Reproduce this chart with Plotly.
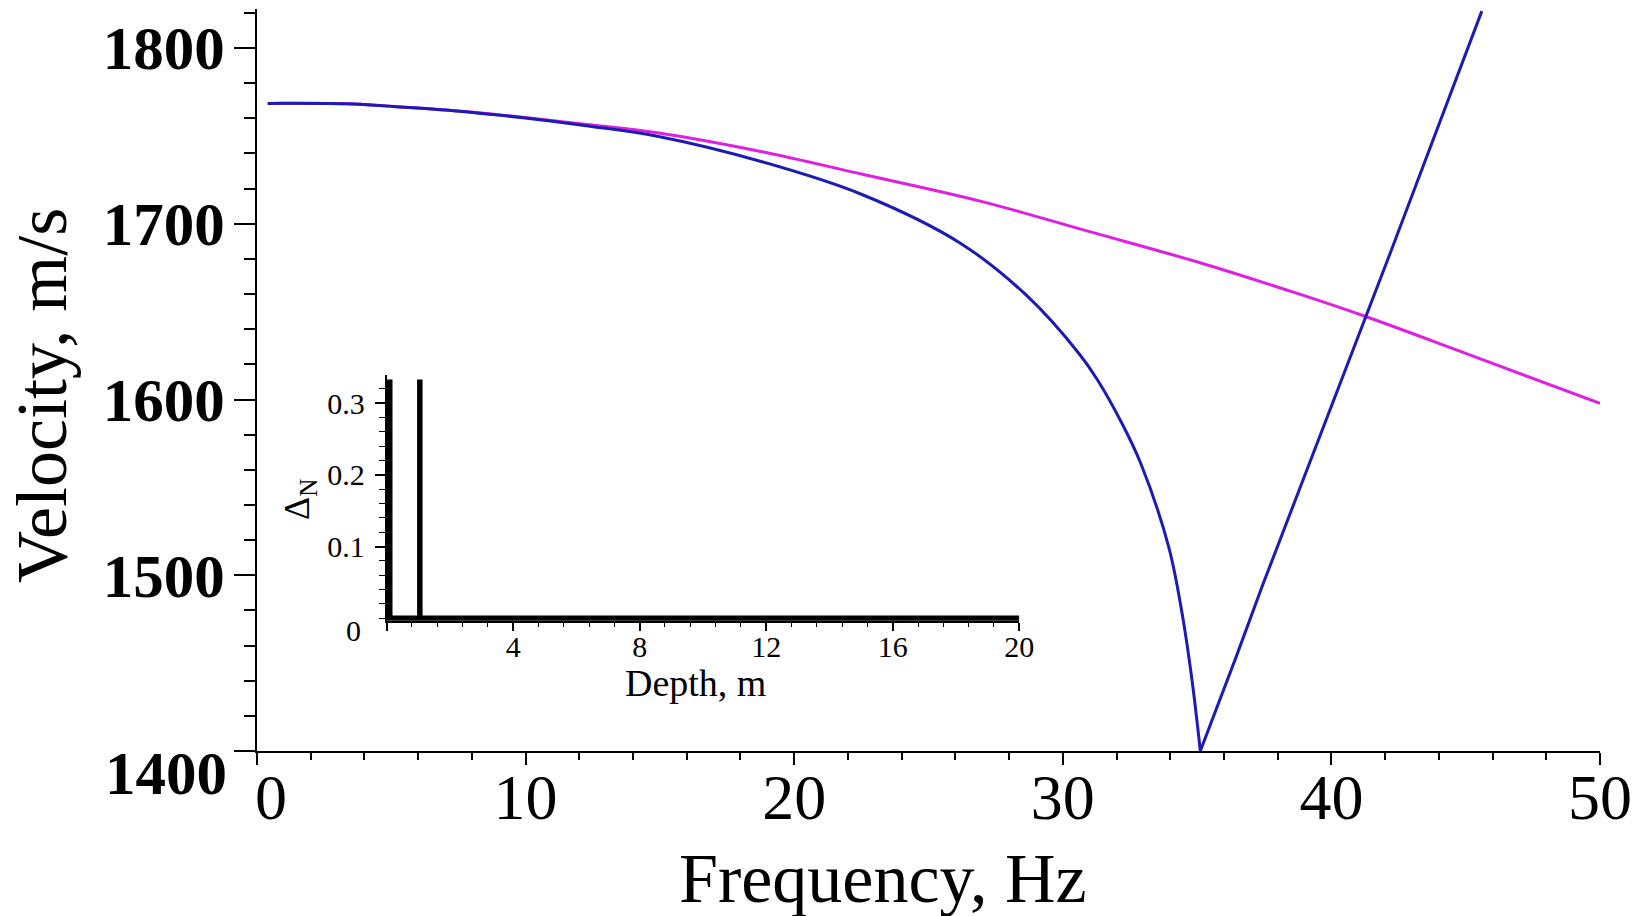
import plotly.graph_objects as go

# Dispersion curves: phase velocity vs frequency
freq_smooth = [0.4, 3.6, 5.2, 7.4, 9.9, 12.4, 14.9, 18.8, 22.5, 27.0, 31.0,
               35.2, 38.9, 41.3, 45.0, 50.0]
vel_smooth = [1768.5, 1768.2, 1766.6, 1764.3, 1760.6, 1756.3, 1751.8, 1741.0,
              1728.3, 1712.6, 1695.5, 1677.4, 1659.5, 1647.1, 1626.3, 1597.8]

freq_notch_fall = [0.4, 3.6, 5.2, 7.4, 9.9, 12.4, 14.9, 18.8, 22.5, 26.2, 28.7,
                   30.6, 31.3, 32.2, 32.9, 33.94, 34.44, 34.81, 35.12]
vel_notch_fall = [1768.5, 1768.1, 1766.6, 1764.2, 1760.3, 1755.5, 1749.8, 1735.3,
                  1716.8, 1688.8, 1658.5, 1626.2, 1611.0, 1586.5, 1563.7, 1516.3,
                  1478.4, 1440.4, 1400.0]

freq_notch_rise = [35.12, 35.69, 36.44, 37.43, 39.73, 41.32, 42.22, 45.6]
vel_notch_rise = [1400.0, 1422.5, 1453.0, 1494.0, 1585.0, 1648.0, 1684.5, 1821.0]

# Inset: layer profile Delta_N vs depth
depth = [0.1, 0.1, 1.05, 1.05, 1.05, 20.0]
delta_n = [0.333, 0.0, 0.0, 0.333, 0.0, 0.0]

x_ticks = [0, 10, 20, 30, 40, 50]
y_ticks = [1400, 1500, 1600, 1700, 1800]
inset_x_ticks = [0, 4, 8, 12, 16, 20]
inset_y_ticks = [0.1, 0.2, 0.3]

BLUE = "#1c1cb4"
MAGENTA = "#e020e0"
SERIF = "Liberation Serif, Times New Roman, serif"

W, H = 1644, 916
L, R, T, B = 257, 1600, 9, 751  # plot area in pixels


def px(xp):
    return (xp - L) / (R - L)


def py(yp):
    return (B - yp) / (B - T)


fig = go.Figure()
fig.add_trace(go.Scatter(x=freq_smooth, y=vel_smooth, mode="lines",
                         line=dict(color=MAGENTA, width=3, shape="spline"),
                         showlegend=False))
fig.add_trace(go.Scatter(x=freq_notch_fall, y=vel_notch_fall, mode="lines",
                         line=dict(color=BLUE, width=3, shape="spline"),
                         showlegend=False))
fig.add_trace(go.Scatter(x=freq_notch_rise, y=vel_notch_rise, mode="lines",
                         line=dict(color=BLUE, width=3),
                         showlegend=False))
fig.add_trace(go.Scatter(x=depth, y=delta_n, mode="lines", xaxis="x2", yaxis="y2",
                         line=dict(color="black", width=5.5),
                         showlegend=False))

fig.update_layout(
    width=W, height=H,
    margin=dict(l=L, r=W - R, t=T, b=H - B, pad=0),
    paper_bgcolor="white", plot_bgcolor="rgba(0,0,0,0)",
    xaxis=dict(
        range=[0, 50], showgrid=False, zeroline=False,
        showline=True, linecolor="black", linewidth=2,
        tickmode="array", tickvals=x_ticks,
        ticktext=[""] + [str(v) for v in x_ticks[1:]],
        ticks="outside", ticklen=12, tickwidth=2, tickcolor="black",
        tickfont=dict(family=SERIF, size=64, color="black"),
        ticklabelstandoff=-23,
        minor=dict(tickmode="linear", tick0=0, dtick=2, ticks="outside",
                   ticklen=7, tickwidth=1.5, tickcolor="black"),
    ),
    yaxis=dict(
        range=[1400, 1822.2], showgrid=False, zeroline=False,
        showline=True, linecolor="black", linewidth=2,
        tickmode="array", tickvals=y_ticks,
        ticktext=[""] + [str(v) for v in y_ticks[1:]],
        ticks="outside", ticklen=21, tickwidth=2, tickcolor="black",
        tickfont=dict(family=SERIF, size=61, color="black", weight="bold"),
        ticklabelstandoff=-3,
        minor=dict(tickmode="linear", tick0=1400, dtick=20, ticks="outside",
                   ticklen=11, tickwidth=1.5, tickcolor="black"),
    ),
    xaxis2=dict(
        domain=[px(386.6), px(1019.3)], anchor="y2",
        range=[0, 20], showgrid=False, zeroline=False,
        showline=True, linecolor="black", linewidth=1.5,
        tickmode="array", tickvals=inset_x_ticks,
        ticktext=[""] + [str(v) for v in inset_x_ticks[1:]],
        ticks="outside", ticklen=8, tickwidth=1.5, tickcolor="black",
        tickfont=dict(family=SERIF, size=30, color="black"),
        ticklabelstandoff=-10,
        minor=dict(tickmode="linear", tick0=0, dtick=0.8, ticks="outside",
                   ticklen=4, tickwidth=1, tickcolor="black"),
    ),
    yaxis2=dict(
        domain=[py(620.8), py(375.2)], anchor="x2",
        range=[-0.0035, 0.339], showgrid=False, zeroline=False,
        showline=True, linecolor="black", linewidth=1.5,
        tickmode="array", tickvals=inset_y_ticks,
        ticktext=[f"{v:.1f}" for v in inset_y_ticks],
        ticks="outside", ticklen=10, tickwidth=1.5, tickcolor="black",
        tickfont=dict(family=SERIF, size=30, color="black"),
        ticklabelstandoff=4,
        minor=dict(tickmode="linear", tick0=0, dtick=0.02, ticks="outside",
                   ticklen=6, tickwidth=1, tickcolor="black"),
    ),
)

annotations = [
    # axis titles
    dict(text="Frequency, Hz", x=px(883), y=py(878), xref="paper", yref="paper",
         showarrow=False, xanchor="center", yanchor="middle",
         font=dict(family=SERIF, size=70, color="black")),
    dict(text="Velocity, m/s", x=px(42), y=py(396), xref="paper", yref="paper",
         showarrow=False, xanchor="center", yanchor="middle", textangle=-90,
         font=dict(family=SERIF, size=72, color="black")),
    # origin labels of the main axes
    dict(text="0", x=px(271), y=py(797), xref="paper", yref="paper",
         showarrow=False, xanchor="center", yanchor="middle",
         font=dict(family=SERIF, size=64, color="black")),
    dict(text="1400", x=px(229), y=py(773), xref="paper", yref="paper",
         showarrow=False, xanchor="right", yanchor="middle",
         font=dict(family=SERIF, size=61, color="black", weight="bold")),
    # inset labels
    dict(text="Depth, m", x=px(695), y=py(683), xref="paper", yref="paper",
         showarrow=False, xanchor="center", yanchor="middle",
         font=dict(family=SERIF, size=38, color="black")),
    dict(text="Δ<sub>N</sub>", x=px(300), y=py(500), xref="paper", yref="paper",
         showarrow=False, xanchor="center", yanchor="middle", textangle=-90,
         font=dict(family=SERIF, size=36, color="black")),
    dict(text="0", x=px(353), y=py(630), xref="paper", yref="paper",
         showarrow=False, xanchor="center", yanchor="middle",
         font=dict(family=SERIF, size=30, color="black")),
]
fig.update_layout(annotations=annotations)

fig.write_html("out.html")
